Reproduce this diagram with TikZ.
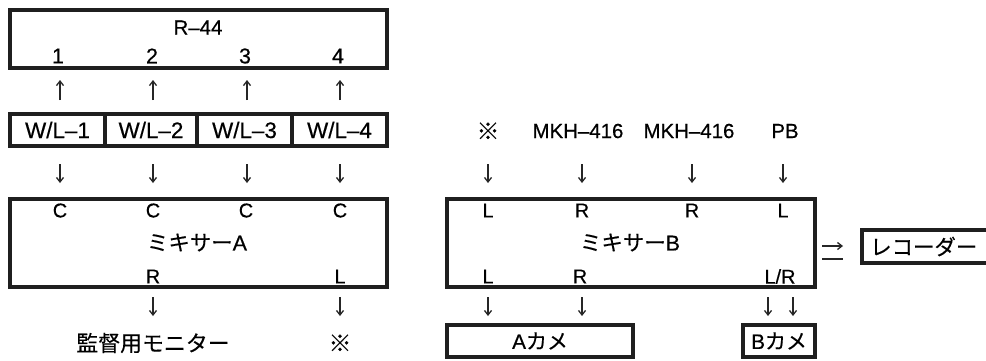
\documentclass[tikz,border=0pt]{standalone}
\usepackage{fontspec}
\setmainfont{Liberation Sans}[FakeBold=0.5]
\newfontfamily\jp{Noto Sans CJK JP}[FakeBold=0.3]
\usetikzlibrary{arrows.meta}

\tikzset{
  box/.style={draw=black!88, line width=3.6bp, inner sep=0pt, fill=white,
              font=\fontsize{22.5}{22.5}\selectfont},
  lbl/.style={inner sep=0pt, font=\fontsize{20}{20}\selectfont},
  biglbl/.style={inner sep=0pt, font=\fontsize{21.5}{21.5}\selectfont},
  midlbl/.style={inner sep=0pt, font=\fontsize{20.5}{20.5}\selectfont},
  marklbl/.style={inner sep=0pt, font=\fontsize{23}{23}\jp\bfseries},
  sig/.style={line width=1.3bp, draw=black!85,
              -{Straight Barb[length=4.5bp,width=7bp]}},
  plainsig/.style={line width=1.3bp, draw=black!85}
}

\begin{document}
\begin{tikzpicture}[x=1bp,y=-1bp]
\clip (0,0) rectangle (986,360);
\fill[white] (0,0) rectangle (986,360);

% ---------------- recorder R-44 ----------------
\node[box, minimum width=377bp, minimum height=58bp] (r44) at (198.5,39) {};
\node[midlbl] (r44t) at (198,27.5) {R–44};
\node[biglbl] (in1) at (58,56) {1};
\node[biglbl] (in2) at (152,56) {2};
\node[biglbl] (in3) at (245,56) {3};
\node[biglbl] (in4) at (338,56) {4};

% ---------------- wireless receivers ----------------
\node[box, minimum width=95bp, minimum height=32bp] (wl1) at (57.5,130) {\raisebox{-1.5bp}{W/L–1}};
\node[box, minimum width=92bp, minimum height=32bp] (wl2) at (151,130) {\raisebox{-1.5bp}{W/L–2}};
\node[box, minimum width=95bp, minimum height=32bp] (wl3) at (244.5,130) {\raisebox{-1.5bp}{W/L–3}};
\node[box, minimum width=95bp, minimum height=32bp] (wl4) at (339.5,130) {\raisebox{-1.5bp}{W/L–4}};

% ---------------- mixer A ----------------
\node[box, minimum width=377bp, minimum height=88bp] (mixa) at (198.5,243) {};
\node[lbl] (ca1) at (60,210.5) {C};
\node[lbl] (ca2) at (153,210.5) {C};
\node[lbl] (ca3) at (246,210.5) {C};
\node[lbl] (ca4) at (340,210.5) {C};
\node[biglbl] (mixat) at (197,242.5) {{\jp ミキサー}A};
\node[lbl] (oar) at (153,276.5) {R};
\node[lbl] (oal) at (340,276.5) {L};
\node[biglbl, font=\fontsize{22}{22}\selectfont] (mon) at (153,343) {\jp 監督用モニター};
\node[marklbl] (markA) at (340,343) {※};

% ---------------- mixer B ----------------
\node[marklbl] (markB) at (488,131) {※};
\node[midlbl] (mkh1) at (578,131) {MKH–416};
\node[midlbl] (mkh2) at (689,131) {MKH–416};
\node[midlbl] (pb) at (785,131) {PB};

\node[box, minimum width=368bp, minimum height=88bp] (mixb) at (631,243) {};
\node[lbl] (ib1) at (488,210.5) {L};
\node[lbl] (ib2) at (582,210.5) {R};
\node[lbl] (ib3) at (692,210.5) {R};
\node[lbl] (ib4) at (783,210.5) {L};
\node[biglbl] (mixbt) at (630,242.5) {{\jp ミキサー}B};
\node[lbl] (obl) at (488,276.5) {L};
\node[lbl] (obr) at (580,276.5) {R};
\node[lbl] (oblr) at (780,276.5) {L/R};

% ---------------- cameras and recorder ----------------
\node[box, font=\fontsize{21}{21}\selectfont, minimum width=186bp, minimum height=32bp] (cama) at (540,341) {A{\jp カメ}};
\node[box, font=\fontsize{21}{21}\selectfont, minimum width=72bp, minimum height=32bp] (camb) at (779,341) {B{\jp カメ}};
\node[box, minimum width=150bp, minimum height=33bp] (rec) at (937,246.5) {};
\node[biglbl, anchor=west] (rect) at (870,246.5) {\jp レコーダー};

% ---------------- signal arrows ----------------
\foreach \n/\x in {1/60,2/153,3/247,4/340}{
  \coordinate (ua\n) at (\x,100);
  \coordinate (ub\n) at (\x,80);
  \draw[sig] (ua\n) -- (ub\n);
  \coordinate (da\n) at (\x,164);
  \coordinate (db\n) at (\x,183);
  \draw[sig] (da\n) -- (db\n);
}
\foreach \n/\x in {1/153,2/340}{
  \coordinate (ma\n) at (\x,297);
  \coordinate (mb\n) at (\x,316);
  \draw[sig] (ma\n) -- (mb\n);
}
\foreach \n/\x in {1/488,2/582,3/692,4/783}{
  \coordinate (ra\n) at (\x,164);
  \coordinate (rb\n) at (\x,183);
  \draw[sig] (ra\n) -- (rb\n);
}
\foreach \n/\x in {1/488,2/582,3/768,4/793}{
  \coordinate (sa\n) at (\x,297);
  \coordinate (sb\n) at (\x,316);
  \draw[sig] (sa\n) -- (sb\n);
}

% link between mixer B and the recorder
\coordinate (lk1) at (822,246);
\coordinate (lk2) at (843,246);
\coordinate (lk3) at (822,259);
\coordinate (lk4) at (843,259);
\draw[sig] (lk1) -- (lk2);
\draw[plainsig] (lk3) -- (lk4);
\end{tikzpicture}
\end{document}
